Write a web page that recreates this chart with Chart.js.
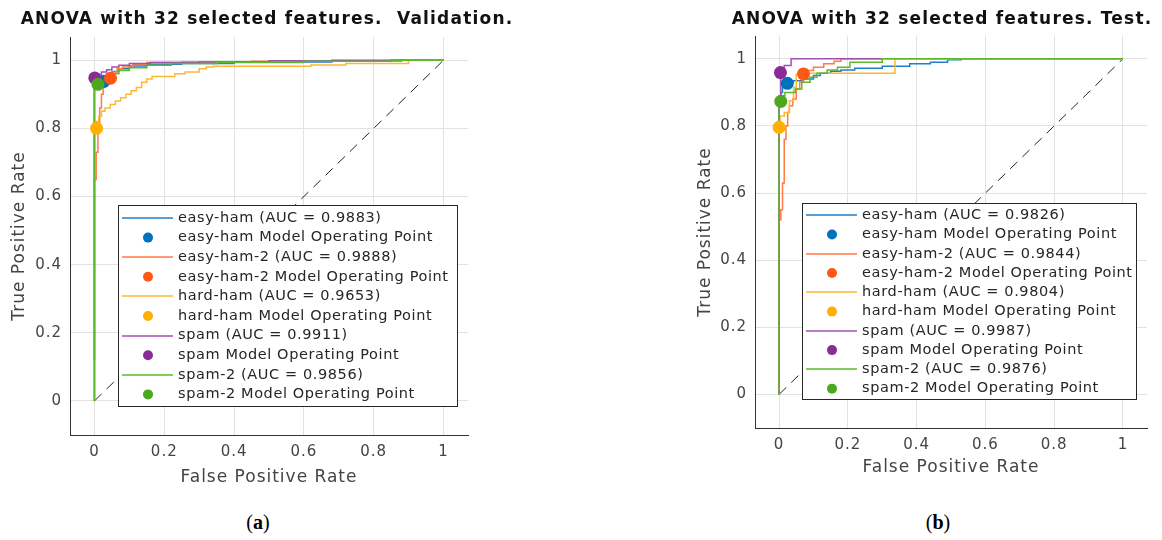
<!DOCTYPE html>
<html>
<head>
<meta charset="utf-8">
<script src="https://cdn.jsdelivr.net/npm/chart.js@4.4.1/dist/chart.umd.min.js"></script>
<style>
  body { margin: 0; background: #fff; width: 1162px; height: 540px; position: relative; overflow: hidden; font-family: 'DejaVu Sans', sans-serif; }
  .box { position: absolute; top: 0; width: 581px; height: 500px; }
  .title { position: absolute; top: 7px; font-weight: bold; font-size: 17px; letter-spacing: 1.2px; line-height: 22px; color: #111; white-space: nowrap; transform: translateX(-50%); }
  .cap { position: absolute; top: 509px; font-family: 'Liberation Serif', serif; font-size: 20px; line-height: 26px; color: #000; transform: translateX(-50%); }
</style>
</head>
<body>
<div class="box" style="left:0"><canvas id="rocVal" width="581" height="500"></canvas></div>
<div class="box" style="left:581px"><canvas id="rocTest" width="581" height="500"></canvas></div>
<div class="title" style="left:267px">ANOVA with 32 selected features.&nbsp; Validation.</div>
<div class="title" style="left:942px">ANOVA with 32 selected features. Test.</div>
<div class="cap" style="left:258px">(<b>a</b>)</div>
<div class="cap" style="left:938px">(<b>b</b>)</div>
<script>
const classNames = ['easy-ham', 'easy-ham-2', 'hard-ham', 'spam', 'spam-2'];
const lineColors = ['#1f7fcc', '#ff7a45', '#ffb830', '#a050b0', '#5cba28'];
const markerColors = ['#0072bd', '#ff5714', '#ffb000', '#8a2c96', '#4ca81e'];
const xTicks = [0, 0.2, 0.4, 0.6, 0.8, 1];
const yTicks = [0, 0.2, 0.4, 0.6, 0.8, 1];
const diagonal = [[0, 0], [1, 1]];

// validation: AUC and ROC points [FPR, TPR] (stepped: rise at previous FPR, then run to this FPR)
const aucVal = [0.9883, 0.9888, 0.9653, 0.9911, 0.9856];
const valEasyHam = [[0,0],[0.005,0.93],[0.02,0.94],[0.035,0.95],[0.05,0.96],[0.07,0.967],[0.1,0.975],[0.15,0.983],[0.25,0.988],[0.4,0.99],[0.68,0.995],[1,1]];
const valEasyHam2 = [[0,0],[0.005,0.65],[0.01,0.73],[0.015,0.8],[0.02,0.86],[0.025,0.9],[0.03,0.92],[0.04,0.94],[0.05,0.955],[0.065,0.965],[0.08,0.975],[0.11,0.98],[0.15,0.988],[0.25,0.993],[0.45,0.995],[0.88,0.997],[1,1]];
const valHardHam = [[0,0],[0.005,0.8],[0.012,0.82],[0.02,0.835],[0.03,0.85],[0.045,0.86],[0.06,0.87],[0.075,0.88],[0.09,0.89],[0.105,0.9],[0.12,0.91],[0.135,0.92],[0.15,0.935],[0.165,0.945],[0.23,0.952],[0.26,0.96],[0.3,0.965],[0.32,0.975],[0.34,0.98],[0.62,0.982],[0.72,0.986],[0.9,0.99],[1,1]];
const valSpam = [[0,0.12],[0.003,0.945],[0.01,0.95],[0.02,0.958],[0.035,0.965],[0.05,0.972],[0.07,0.98],[0.1,0.985],[0.16,0.99],[0.3,0.993],[0.5,0.995],[0.85,0.998],[1,1]];
const valSpam2 = [[0,0],[0.005,0.92],[0.015,0.93],[0.03,0.94],[0.05,0.95],[0.07,0.96],[0.1,0.97],[0.15,0.978],[0.22,0.985],[0.35,0.99],[0.6,0.993],[0.85,0.997],[1,1]];
const valOpPoints = [[0.027,0.938],[0.046,0.947],[0.006,0.8],[0.001,0.948],[0.01,0.929]];

// test
const aucTest = [0.9826, 0.9844, 0.9804, 0.9987, 0.9876];
const testEasyHam = [[0,0],[0.005,0.86],[0.01,0.9],[0.02,0.92],[0.04,0.93],[0.07,0.935],[0.1,0.94],[0.12,0.95],[0.15,0.957],[0.18,0.963],[0.22,0.967],[0.3,0.972],[0.38,0.978],[0.44,0.985],[0.49,0.99],[0.53,0.997],[1,1]];
const testEasyHam2 = [[0,0],[0.005,0.52],[0.01,0.55],[0.015,0.63],[0.02,0.76],[0.025,0.8],[0.03,0.84],[0.04,0.86],[0.05,0.88],[0.06,0.91],[0.07,0.93],[0.08,0.955],[0.1,0.965],[0.13,0.975],[0.16,0.985],[0.18,0.993],[1,1]];
const testHardHam = [[0,0],[0.003,0.79],[0.015,0.83],[0.03,0.84],[0.042,0.875],[0.05,0.915],[0.058,0.955],[0.337,0.957],[1,1]];
const testSpam = [[0,0],[0.005,0.89],[0.015,0.96],[0.035,0.98],[0.3,1]];
const testSpam2 = [[0,0],[0.01,0.87],[0.017,0.89],[0.047,0.9],[0.066,0.91],[0.09,0.93],[0.11,0.945],[0.14,0.957],[0.17,0.967],[0.206,0.975],[0.3,0.99],[1,1]];
const testOpPoints = [[0.024,0.927],[0.071,0.955],[0,0.796],[0.004,0.959],[0.005,0.873]];

const FONT = "'DejaVu Sans', sans-serif";

// legend box drawn inside the axes, like matlab
const rocLegend = {
  id: 'rocLegend',
  beforeDraw(chart) {
    chart.ctx.letterSpacing = '1px'; // matlab text is spaced out
  },
  afterDraw(chart, args, o) {
    const {ctx, chartArea} = chart;
    const x0 = Math.round(chartArea.left + o.dx), y0 = Math.round(chartArea.top + o.dy);
    ctx.save();
    ctx.fillStyle = '#fff';
    ctx.fillRect(x0, y0, o.w, o.h);
    ctx.strokeStyle = '#262626';
    ctx.lineWidth = 1;
    ctx.strokeRect(x0 + 0.5, y0 + 0.5, o.w, o.h);
    ctx.font = '14.5px ' + FONT;
    ctx.letterSpacing = '0.6px';
    ctx.textBaseline = 'middle';
    classNames.forEach((name, i) => {
      const yl = y0 + o.first + (2 * i) * o.step;
      const ym = yl + o.step;
      ctx.strokeStyle = lineColors[i];
      ctx.lineWidth = 1.6;
      ctx.beginPath();
      ctx.moveTo(x0 + 4, Math.round(yl));
      ctx.lineTo(x0 + 55, Math.round(yl));
      ctx.stroke();
      ctx.fillStyle = markerColors[i];
      ctx.beginPath();
      ctx.arc(x0 + 30, ym, 5, 0, Math.PI * 2);
      ctx.fill();
      ctx.fillStyle = '#262626';
      ctx.fillText(name + ' (AUC = ' + o.auc[i].toFixed(4) + ')', x0 + 60, yl);
      ctx.fillText(name + ' Model Operating Point', x0 + 60, ym);
    });
    ctx.restore();
  }
};

function toXY(arr) {
  return arr.map(p => ({x: p[0], y: p[1]}));
}

function makeRoc(id, curves, opPoints, auc, geo) {
  const datasets = [{
    data: toXY(diagonal),
    showLine: true,
    borderColor: '#222',
    borderWidth: 1,
    borderDash: [10, 7],
    pointRadius: 0,
    order: 20
  }];
  curves.forEach((c, i) => {
    datasets.push({
      label: classNames[i],
      data: toXY(c),
      showLine: true,
      stepped: 'after',
      borderColor: lineColors[i],
      borderWidth: 1.5,
      pointRadius: 0,
      order: 10 - i
    });
  });
  opPoints.forEach((p, i) => {
    datasets.push({
      label: classNames[i] + ' Model Operating Point',
      data: toXY([p]),
      pointStyle: 'circle',
      pointRadius: 6.5,
      backgroundColor: markerColors[i],
      borderWidth: 0,
      order: -1 - i
    });
  });

  return new Chart(document.getElementById(id).getContext('2d'), {
    type: 'scatter',
    data: {datasets: datasets},
    plugins: [rocLegend],
    options: {
      responsive: false,
      animation: false,
      layout: {padding: geo.pad},
      plugins: {
        legend: {display: false},
        tooltip: {enabled: false},
        rocLegend: Object.assign({auc: auc}, geo.legend)
      },
      scales: {
        x: {
          type: 'linear',
          min: -0.07,
          max: 1.07,
          afterBuildTicks: ax => { ax.ticks = xTicks.map(v => ({value: v})); },
          afterFit: s => { s.height = geo.xh; },
          ticks: {
            callback: v => String(Math.round(v * 10) / 10),
            font: {family: FONT, size: 15},
            color: '#444',
            padding: 8,
            maxRotation: 0
          },
          grid: {color: '#e2e2e2', drawTicks: false},
          border: {color: '#333', width: 1},
          title: {
            display: true,
            text: 'False Positive Rate',
            font: {family: FONT, size: 17},
            color: '#444',
            padding: {top: 0, bottom: geo.xtPad}
          }
        },
        y: {
          type: 'linear',
          min: -0.1,
          max: 1.068,
          afterBuildTicks: ax => { ax.ticks = yTicks.map(v => ({value: v})); },
          afterFit: s => { s.width = 70; },
          ticks: {
            callback: v => String(Math.round(v * 10) / 10),
            font: {family: FONT, size: 15},
            color: '#444',
            padding: 8
          },
          grid: {color: '#e2e2e2', drawTicks: false},
          border: {color: '#333', width: 1},
          title: {
            display: true,
            text: 'True Positive Rate',
            font: {family: FONT, size: 17},
            color: '#444',
            padding: {top: geo.ytPad, bottom: 0}
          }
        }
      }
    }
  });
}

const rocValChart = makeRoc('rocVal',
  [valEasyHam, valEasyHam2, valHardHam, valSpam, valSpam2], valOpPoints, aucVal,
  {pad: {left: 0, top: 37, right: 113, bottom: 0}, xh: 65, xtPad: 11.8, ytPad: 9.8,
   legend: {dx: 48, dy: 168, w: 339, h: 201, first: 13, step: 19.6}});

const rocTestChart = makeRoc('rocTest',
  [testEasyHam, testEasyHam2, testHardHam, testSpam, testSpam2], testOpPoints, aucTest,
  {pad: {left: 104, top: 36, right: 15, bottom: 0}, xh: 72, xtPad: 21.8, ytPad: 10.8,
   legend: {dx: 47, dy: 167, w: 334, h: 196, first: 12.3, step: 19.26}});
</script>
</body>
</html>
